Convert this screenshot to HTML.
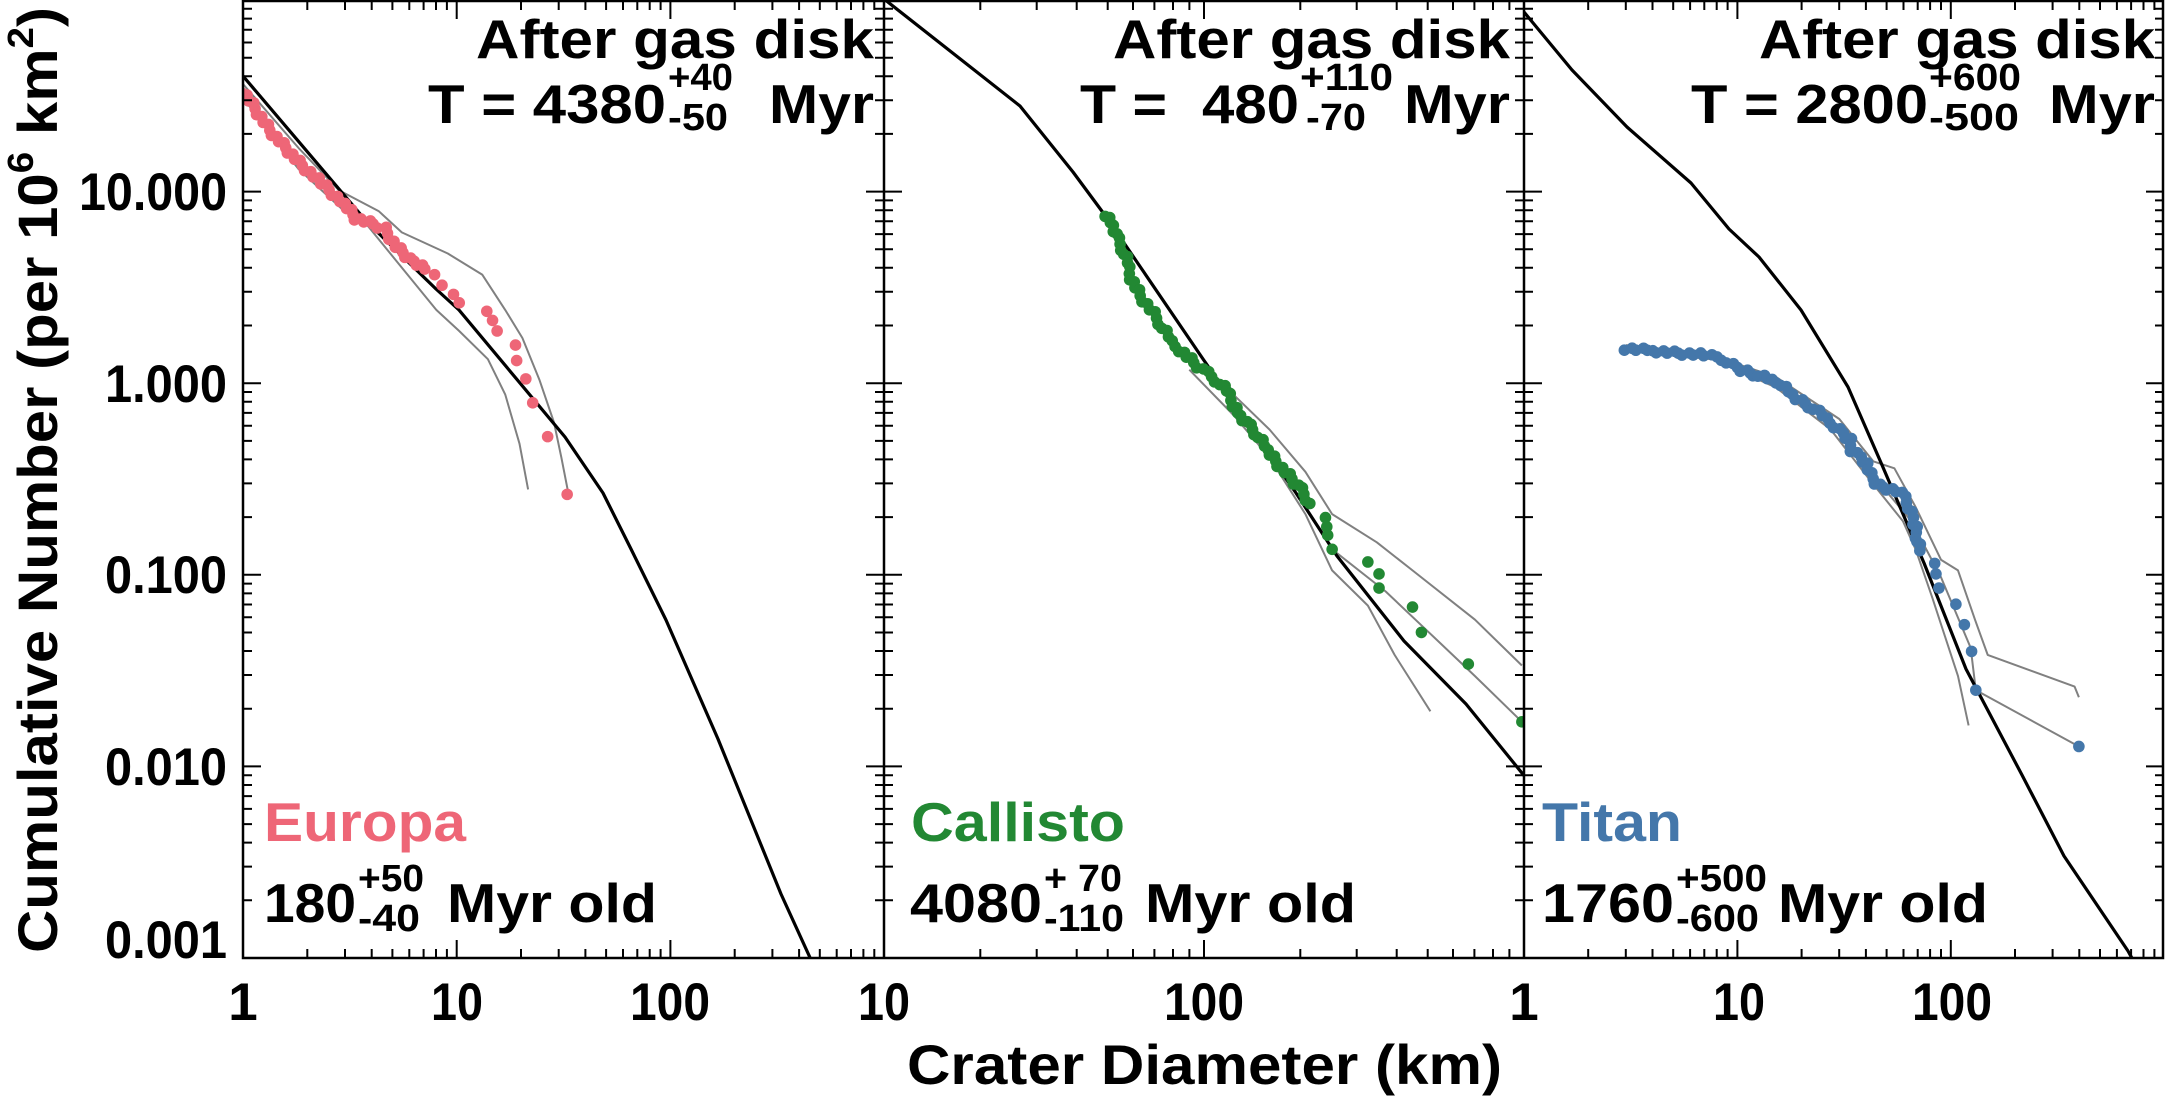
<!DOCTYPE html>
<html><head><meta charset="utf-8"><style>
html,body{margin:0;padding:0;background:#fff;}
svg{display:block;}
text{font-family:"Liberation Sans",Arial,sans-serif;font-weight:bold;}
</style></head><body>
<svg id="s" width="2165" height="1104" viewBox="0 0 2165 1104" xmlns="http://www.w3.org/2000/svg">
<defs>
<clipPath id="c1"><rect x="243" y="0" width="641" height="958"/></clipPath>
<clipPath id="c2"><rect x="884" y="0" width="640" height="958"/></clipPath>
<clipPath id="c3"><rect x="1524" y="0" width="640" height="958"/></clipPath>
</defs>
<g id="g1" clip-path="url(#c1)"></g>
<g id="g2" clip-path="url(#c2)"></g>
<g id="g3" clip-path="url(#c3)"></g>
<g id="axes" stroke="#000" stroke-width="2" fill="none"></g>
<g font-size="53" fill="#000">
<text x="79" y="210" textLength="148" lengthAdjust="spacingAndGlyphs">10.000</text>
<text x="105" y="402" textLength="122" lengthAdjust="spacingAndGlyphs">1.000</text>
<text x="105" y="593" textLength="122" lengthAdjust="spacingAndGlyphs">0.100</text>
<text x="105" y="785" textLength="122" lengthAdjust="spacingAndGlyphs">0.010</text>
<text x="105" y="958" textLength="122" lengthAdjust="spacingAndGlyphs">0.001</text>
<text x="243" y="1020" text-anchor="middle">1</text>
<text x="431" y="1020" textLength="52" lengthAdjust="spacingAndGlyphs">10</text>
<text x="630" y="1020" textLength="80" lengthAdjust="spacingAndGlyphs">100</text>
<text x="858" y="1020" textLength="52" lengthAdjust="spacingAndGlyphs">10</text>
<text x="1164" y="1020" textLength="80" lengthAdjust="spacingAndGlyphs">100</text>
<text x="1524" y="1020" text-anchor="middle">1</text>
<text x="1713" y="1020" textLength="52" lengthAdjust="spacingAndGlyphs">10</text>
<text x="1912" y="1020" textLength="80" lengthAdjust="spacingAndGlyphs">100</text>
</g>
<text x="907" y="1084" font-size="56" textLength="595" lengthAdjust="spacingAndGlyphs">Crater Diameter (km)</text>
<text transform="translate(57,953) rotate(-90)" font-size="56" textLength="946" lengthAdjust="spacingAndGlyphs">Cumulative Number (per 10<tspan font-size="36" dy="-24">6</tspan><tspan dy="24"> km</tspan><tspan font-size="36" dy="-24">2</tspan><tspan dy="24">)</tspan></text>

<g font-size="55" fill="#000">
<text x="476" y="58" textLength="398" lengthAdjust="spacingAndGlyphs">After gas disk</text>
<text x="428" y="123" textLength="238" lengthAdjust="spacingAndGlyphs">T = 4380</text>
<text x="668" y="90" font-size="38" textLength="65" lengthAdjust="spacingAndGlyphs">+40</text>
<text x="668" y="130" font-size="38" textLength="60" lengthAdjust="spacingAndGlyphs">-50</text>
<text x="769" y="123" textLength="105" lengthAdjust="spacingAndGlyphs">Myr</text>

<text x="1113" y="58" textLength="397" lengthAdjust="spacingAndGlyphs">After gas disk</text>
<text x="1080" y="123" textLength="87" lengthAdjust="spacingAndGlyphs">T =</text>
<text x="1202" y="123" textLength="97" lengthAdjust="spacingAndGlyphs">480</text>
<text x="1300" y="90" font-size="38" textLength="93" lengthAdjust="spacingAndGlyphs">+110</text>
<text x="1306" y="130" font-size="38" textLength="60" lengthAdjust="spacingAndGlyphs">-70</text>
<text x="1404" y="123" textLength="106" lengthAdjust="spacingAndGlyphs">Myr</text>

<text x="1759" y="58" textLength="396" lengthAdjust="spacingAndGlyphs">After gas disk</text>
<text x="1691" y="123" textLength="237" lengthAdjust="spacingAndGlyphs">T = 2800</text>
<text x="1929" y="90" font-size="38" textLength="92" lengthAdjust="spacingAndGlyphs">+600</text>
<text x="1929" y="130" font-size="38" textLength="90" lengthAdjust="spacingAndGlyphs">-500</text>
<text x="2049" y="123" textLength="106" lengthAdjust="spacingAndGlyphs">Myr</text>

<text x="264" y="841" fill="#EE6677" textLength="202" lengthAdjust="spacingAndGlyphs">Europa</text>
<text x="264" y="922" textLength="92" lengthAdjust="spacingAndGlyphs">180</text>
<text x="358" y="891" font-size="38" textLength="66" lengthAdjust="spacingAndGlyphs">+50</text>
<text x="358" y="931" font-size="38" textLength="62" lengthAdjust="spacingAndGlyphs">-40</text>
<text x="447" y="922" textLength="210" lengthAdjust="spacingAndGlyphs">Myr old</text>

<text x="911" y="841" fill="#228833" textLength="214" lengthAdjust="spacingAndGlyphs">Callisto</text>
<text x="910" y="922" textLength="132" lengthAdjust="spacingAndGlyphs">4080</text>
<text x="1044" y="891" font-size="38" textLength="78" lengthAdjust="spacingAndGlyphs">+ 70</text>
<text x="1044" y="931" font-size="38" textLength="80" lengthAdjust="spacingAndGlyphs">-110</text>
<text x="1145" y="922" textLength="211" lengthAdjust="spacingAndGlyphs">Myr old</text>

<text x="1542" y="841" fill="#4477AA" textLength="140" lengthAdjust="spacingAndGlyphs">Titan</text>
<text x="1542" y="922" textLength="132" lengthAdjust="spacingAndGlyphs">1760</text>
<text x="1676" y="891" font-size="38" textLength="91" lengthAdjust="spacingAndGlyphs">+500</text>
<text x="1676" y="931" font-size="38" textLength="83" lengthAdjust="spacingAndGlyphs">-600</text>
<text x="1778" y="922" textLength="210" lengthAdjust="spacingAndGlyphs">Myr old</text>
</g>
</svg>
<script>
var NS="http://www.w3.org/2000/svg";
function el(p,t,a){var e=document.createElementNS(NS,t);for(var k in a)e.setAttribute(k,a[k]);p.appendChild(e);return e;}
function tr(arr,ox,fx){return arr.map(function(p){return [ox+p[0]/fx,p[1]/1.42];});}
function line(g,pts,col,w){el(g,"polyline",{points:pts.map(function(p){return p[0].toFixed(1)+","+p[1].toFixed(1)}).join(" "),fill:"none",stroke:col,"stroke-width":w,"stroke-linejoin":"round"});}
function dots(g,pts,col,dense){
  var out=[];
  for(var i=0;i<pts.length-1;i++){var a=pts[i],b=pts[i+1];var n=dense?Math.max(1,Math.round(Math.hypot(b[0]-a[0],b[1]-a[1])/5)):1;for(var j=0;j<n;j++){var jit=dense?((i*7+j*3)%5-2)*0.8:0;out.push([a[0]+(b[0]-a[0])*j/n+jit,a[1]+(b[1]-a[1])*j/n-jit]);}}
  out.push(pts[pts.length-1]);
  out.forEach(function(p){el(g,"circle",{cx:p[0],cy:p[1],r:5.8,fill:col});});
}
var g1=document.getElementById("g1"),g2=document.getElementById("g2"),g3=document.getElementById("g3");
var G="#808080";
var f1=1.742;
line(g1,tr([[424,120],[520,210],[590,270],[660,300],[700,330],[780,360],[840,390],[880,440],[910,480],[940,540],[965,600],[978,650],[990,700]],0,f1),G,2);
line(g1,tr([[424,140],[520,240],[600,300],[640,320],[690,370],[760,440],[800,470],[850,510],[880,560],[905,630],[920,695]],0,f1),G,2);
line(g1,[[243,76],[367,222],[436,289],[459,310],[565,437],[603,493],[631,549],[666,620],[718,739],[781,894],[812,962]],"#000",3.2);
dots(g1,tr([[424,130],[470,185],[520,230],[560,260],[600,290],[620,310],[650,318],[670,325],[690,350],[720,372],[740,382]],0,f1),"#EE6677",true);
dots(g1,tr([[757,390],[770,405],[790,418],[800,430],[848,442],[858,455],[866,470],[898,490],[900,512],[916,538],[928,572],[954,620],[988,702]],0,f1),"#EE6677",false);
var f2=2.24;
line(g2,tr([[760,510],[850,555],[940,610],[1020,670],[1080,730],[1180,770],[1260,810],[1400,880],[1505,945]],850,f2),G,2);
line(g2,tr([[760,525],[860,590],[940,650],[1020,730],[1080,810],[1160,860],[1220,930],[1300,1010]],850,f2),G,2);
line(g2,tr([[1080,780],[1200,840],[1300,900],[1400,960],[1505,1025]],850,f2),G,2);
line(g2,[[884,-1],[1020,106],[1073,172],[1107,218],[1203,359],[1296,493],[1337,556],[1404,641],[1466,704],[1526,778]],"#000",3.2);
dots(g2,tr([[575,305],[590,320],[600,340],[615,360],[625,380],[630,395],[650,420],[680,445],[700,465],[720,485],[740,497],[770,515],[800,530],[830,545],[850,560],[860,575],[875,590],[895,605],[915,620],[935,640],[960,660],[990,680],[1010,695],[1030,715]],850,f2),"#228833",true);
dots(g2,tr([[1065,735],[1068,748],[1070,760],[1080,780],[1160,798],[1185,815],[1185,835],[1260,862],[1280,898],[1385,943],[1505,1025]],850,f2),"#228833",false);
var f3=2.358;
line(g3,tr([[297,490],[500,505],[650,535],[800,595],[880,655],[930,665],[980,720],[1040,795],[1080,810],[1120,880],[1150,930],[1355,975],[1365,990]],1500,f3),G,2);
line(g3,tr([[297,498],[500,510],[650,550],[780,610],[870,680],[950,740],[980,780],[1020,850],[1080,960],[1105,1030]],1500,f3),G,2);
line(g3,tr([[297,494],[500,507],[650,542],[800,605],[900,690],[970,740],[1040,820],[1110,920],[1122,980],[1365,1060]],1500,f3),G,2);
line(g3,[[1524,12],[1572,70],[1627,127],[1691,183],[1729,229],[1759,257],[1801,310],[1848,387],[1882,465],[1924,563],[1966,669],[2022,775],[2064,856],[2128,951],[2133,960]],"#000",3.2);
dots(g3,tr([[297,495],[360,498],[408,501],[482,504],[510,508],[537,513],[560,522],[580,528],[610,533],[640,540],[665,545],[690,560],[710,570],[740,580],[770,595],[790,605],[810,615],[825,625],[828,640],[850,650],[870,665],[880,680],[893,690],[935,697],[955,706],[965,720],[975,735],[980,750],[985,768],[990,782]],1500,f3),"#4477AA",true);
dots(g3,tr([[1025,800],[1028,815],[1035,835],[1075,858],[1095,887],[1112,925],[1122,980],[1365,1060]],1500,f3),"#4477AA",false);
var ax=document.getElementById("axes");
el(ax,"rect",{x:243,y:1,width:1920,height:957,"stroke-width":2.5});
el(ax,"line",{x1:884,y1:0,x2:884,y2:958,"stroke-width":2.5});
el(ax,"line",{x1:1524,y1:0,x2:1524,y2:958,"stroke-width":2.5});
var d="";
var vx=[243,884,1524,2164];
for(var e=-3;e<2;e++){for(var m=1;m<10;m++){var y=958-(e+3+Math.log10(m))*191.6;var L=m==1?18:9;vx.forEach(function(x,i){if(i<3)d+="M"+x+","+y.toFixed(1)+"h"+L;if(i>0)d+="M"+x+","+y.toFixed(1)+"h"+(-L);});}}
function xt(x0,dec,nd){for(var e=0;e<nd;e++){for(var m=1;m<10;m++){if(e==0&&m==1)continue;var x=x0+(e+Math.log10(m))*dec;var L=m==1?18:9;d+="M"+x.toFixed(1)+",958v"+(-L)+"M"+x.toFixed(1)+",1v"+L;}}}
xt(243,213.7,3);xt(884,320,2);xt(1524,213.4,3);
el(ax,"path",{d:d,"stroke-width":2});
</script>
</body></html>
